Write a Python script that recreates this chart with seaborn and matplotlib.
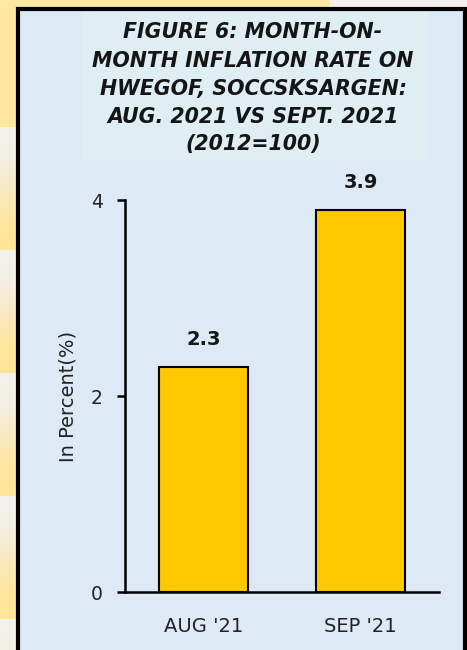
import numpy as np
import seaborn as sns
import matplotlib.pyplot as plt
from matplotlib.patches import Rectangle
from matplotlib.colors import LinearSegmentedColormap

months = ["AUG '21", "SEP '21"]
rates = [2.3, 3.9]
title_lines = [
    "FIGURE 6: MONTH-ON-",
    "MONTH INFLATION RATE ON",
    "HWEGOF, SOCCSKSARGEN:",
    "AUG. 2021 VS SEPT. 2021",
    "(2012=100)",
]
y_ticks = [0, 2, 4]

W, H = 467, 650

sns.set_theme(style="white")
plt.rcParams['font.family'] = ['DejaVu Sans']
plt.rcParams['text.color'] = '#151515'

fig = plt.figure(figsize=(W / 100, H / 100), dpi=100)
fig.patch.set_facecolor('#F2F1EE')

# background decoration in pixel coordinates
bg = fig.add_axes([0, 0, 1, 1], zorder=0)
bg.axis('off')

grad = np.linspace(0, 1, 60).reshape(-1, 1)
cm = LinearSegmentedColormap.from_list(
    'strip', ['#F2F1EE', '#F3EFE4', '#F8EAC4', '#FEE6A0', '#FFE596'])
bg.add_patch(Rectangle((0, 0), 17, 127, facecolor='#FFE79E', edgecolor='none', zorder=1))
for top in [127, 250, 373, 496, 619]:
    bg.imshow(grad, cmap=cm, extent=(0, 17, top + 123, top), aspect='auto', zorder=1)
bg.add_patch(Rectangle((0, 0), 330, 8, facecolor='#FFE8A2', edgecolor='none', zorder=1))
bg.set_xlim(0, W)
bg.set_ylim(H, 0)

bg.add_patch(Rectangle((18, 9), W - 20, H, facecolor='#DDE9F5',
                       edgecolor='black', linewidth=3, zorder=2))
bg.add_patch(Rectangle((82, 12), 346, 148, facecolor='#DEEEF3',
                       edgecolor='none', zorder=3))

line_y = [32, 61, 89, 117, 144]
for txt, yy in zip(title_lines, line_y):
    bg.text(253, yy, txt, ha='center', va='center', fontsize=14.8,
            fontweight='bold', fontstyle='italic', color='#151515', zorder=4)

# main chart
ax = fig.add_axes([125 / W, 58 / H, 314 / W, 392 / H], zorder=5)
ax.patch.set_alpha(0)
sns.barplot(x=months, y=rates, color='#FFC800', saturation=1,
            edgecolor='black', linewidth=1.5, width=0.57, ax=ax)
ax.set_ylim(0, 4)
ax.set_xlim(-0.5, 1.5)
ax.set_yticks(y_ticks)
ax.set_yticklabels([str(t) for t in y_ticks])
for s in ['top', 'right']:
    ax.spines[s].set_visible(False)
for s in ['left', 'bottom']:
    ax.spines[s].set_color('black')
    ax.spines[s].set_linewidth(1.8)
ax.tick_params(axis='y', length=6, width=1.8, color='black', pad=10,
               labelsize=13.5, labelcolor='#222222', left=True)
ax.tick_params(axis='x', length=0, pad=18, labelsize=14, labelcolor='#222222')
ax.set_xlabel('')
ax.set_ylabel('In Percent(%)', fontsize=14, color='#222222')
ax.yaxis.label.set_va('center')
ax.yaxis.set_label_coords(-0.182, 0.5)

for c in ax.containers:
    ax.bar_label(c, fmt='%.1f', padding=13, fontsize=14, fontweight='bold',
                 color='#151515')

fig.savefig('out.png', dpi=100)
